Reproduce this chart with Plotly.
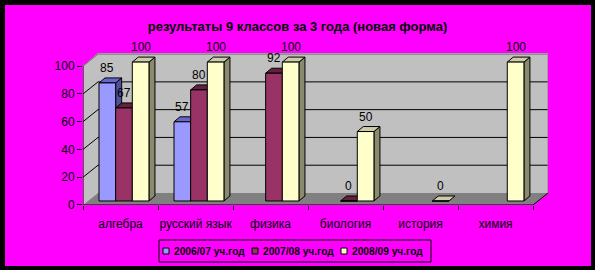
import plotly.graph_objects as go

# ---------------- data ----------------
CATEGORIES = ["алгебра", "русский язык", "физика", "биология", "история", "химия"]
SERIES = ["2006/07 уч.год", "2007/08 уч.год", "2008/09 уч.год"]
VALUES_2006_07 = [85, 57, None, None, None, None]
VALUES_2007_08 = [67, 80, 92, 0, None, None]
VALUES_2008_09 = [100, 100, 100, 50, 0, 100]
Y_TICKS = [0, 20, 40, 60, 80, 100]
TITLE = "результаты 9 классов за 3 года (новая форма)"

ALL_VALUES = [VALUES_2006_07, VALUES_2007_08, VALUES_2008_09]

# ---------------- style ----------------
FRONT = ["#9999FF", "#993366", "#FFFFCC"]
TOP = ["#6666CC", "#66203F", "#CCCCA8"]
SIDE = ["#50509C", "#4E1A34", "#8A8A6E"]
MAGENTA = "#FF00FF"
WALL = "#C0C0C0"
FLOOR = "#808080"
FONT = "Liberation Sans, Arial, sans-serif"

W, H = 595, 270
ML, MR, MT, MB = 83, 47, 53, 65
PW, PH = W - ML - MR, H - MT - MB
X0, X1 = -0.5, 5.7
Y0, Y1 = -2.88, 106.55
PXU = PH / (Y1 - Y0)           # px per y unit
WALL_OFF = 8 / PXU             # back wall zero above bar base
WALL_DX = 0.2                  # wall depth in category units
BAR_W = 0.222
OFFSETS = [-0.287, -0.065, 0.157]
DX = 6 / 75.0                  # bar depth (x)
DY = 5 / PXU                   # bar depth (y)


def px_x(px):
    return (px - ML) / PW


def px_y(py):
    return (H - MB - py) / PH


fig = go.Figure()
idx = list(range(len(CATEGORIES)))

for s, vals in enumerate(ALL_VALUES):
    fig.add_trace(go.Bar(
        x=idx, y=vals, name=SERIES[s], offset=OFFSETS[s], width=BAR_W,
        marker=dict(color=FRONT[s], line=dict(color="black", width=1)),
        showlegend=False, hoverinfo="skip",
    ))

shapes = []
# magenta corner triangles of the 3D box
shapes.append(dict(type="path", xref="x", yref="y", layer="below",
                   path=f"M{X0},{Y1} L{X0 + WALL_DX},{Y1} L{X0},{100 + Y0} Z",
                   fillcolor=MAGENTA, line=dict(width=0)))
shapes.append(dict(type="path", xref="x", yref="y", layer="below",
                   path=f"M{X1 - WALL_DX},{Y0} L{X1},{Y0} L{X1},{WALL_OFF} Z",
                   fillcolor=MAGENTA, line=dict(width=0)))
# floor
shapes.append(dict(type="path", xref="x", yref="y", layer="below",
                   path=f"M{X0},{Y0} L{X0 + WALL_DX},{WALL_OFF} L{X1},{WALL_OFF} L{X1 - WALL_DX},{Y0} Z",
                   fillcolor=FLOOR, line=dict(width=0)))
# gridlines on side wall and back wall
for t in Y_TICKS[1:]:
    col = "black" if t < 100 else "#707070"
    shapes.append(dict(type="path", xref="x", yref="y", layer="below",
                       path=f"M{X0},{t + Y0} L{X0 + WALL_DX},{t + WALL_OFF} L{X1},{t + WALL_OFF}",
                       line=dict(color=col, width=1)))
# right wall edge
shapes.append(dict(type="line", xref="x", yref="y", layer="below",
                   x0=X1, x1=X1, y0=WALL_OFF, y1=100 + WALL_OFF,
                   line=dict(color="#808080", width=1)))

# 3D faces of bars
for i in idx:
    for s, vals in enumerate(ALL_VALUES):
        v = vals[i]
        if v is None:
            continue
        xl = i + OFFSETS[s]
        xr = xl + BAR_W
        if v > 0:
            shapes.append(dict(type="path", xref="x", yref="y", layer="below",
                               path=f"M{xr},0 L{xr + DX},{DY} L{xr + DX},{v + DY} L{xr},{v} Z",
                               fillcolor=SIDE[s], line=dict(color="black", width=1)))
        shapes.append(dict(type="path", xref="x", yref="y", layer="below",
                           path=f"M{xl},{v} L{xl + DX},{v + DY} L{xr + DX},{v + DY} L{xr},{v} Z",
                           fillcolor=TOP[s], line=dict(color="black", width=1)))

# axis lines
shapes.append(dict(type="path", xref="x", yref="y", layer="above",
                   path=f"M{X0},{Y0} L{X1 - WALL_DX},{Y0} L{X1},{WALL_OFF}",
                   line=dict(color="black", width=1)))
shapes.append(dict(type="line", xref="x", yref="y", layer="above",
                   x0=X0, x1=X0, y0=Y0, y1=100 + Y0,
                   line=dict(color="black", width=1)))

# black frame
fx0, fx1 = px_x(0), px_x(W)
fy0, fy1 = px_y(H), px_y(0)
ix0, ix1 = px_x(5), px_x(591)
iy0, iy1 = px_y(266), px_y(5)
shapes.append(dict(type="path", xref="paper", yref="paper", layer="above",
                   path=(f"M{fx0},{fy0} L{fx1},{fy0} L{fx1},{fy1} L{fx0},{fy1} Z "
                         f"M{ix0},{iy0} L{ix1},{iy0} L{ix1},{iy1} L{ix0},{iy1} Z"),
                   fillcolor="black", line=dict(width=0)))

annotations = []
# value labels
for s, vals in enumerate(ALL_VALUES):
    for i, v in enumerate(vals):
        if v is None:
            continue
        annotations.append(dict(x=i + OFFSETS[s] + BAR_W / 2, y=v, xref="x", yref="y",
                                text=str(v), showarrow=False, yshift=15, yanchor="middle",
                                font=dict(family=FONT, size=12, color="black")))

# custom legend
LEG_L, LEG_R, LEG_T, LEG_B = 159, 431, 240, 262
shapes.append(dict(type="rect", xref="paper", yref="paper", layer="above",
                   x0=px_x(LEG_L), x1=px_x(LEG_R), y0=px_y(LEG_B), y1=px_y(LEG_T),
                   line=dict(color="black", width=1)))
for s, name in enumerate(SERIES):
    sx = 163 + s * 89
    shapes.append(dict(type="rect", xref="paper", yref="paper", layer="above",
                       x0=px_x(sx), x1=px_x(sx + 6), y0=px_y(254), y1=px_y(248),
                       fillcolor=FRONT[s], line=dict(color="black", width=1)))
    annotations.append(dict(x=px_x(sx + 9), y=px_y(251), xref="paper", yref="paper",
                            text=f"<b>{name}</b>", showarrow=False, xanchor="left",
                            yanchor="middle",
                            font=dict(family=FONT, size=10.2, color="black")))

fig.update_layout(
    width=W, height=H,
    margin=dict(l=ML, r=MR, t=MT, b=MB),
    paper_bgcolor=MAGENTA, plot_bgcolor=WALL,
    barmode="overlay",
    showlegend=False,
    title=dict(text=f"<b>{TITLE}</b>", x=0.5, xanchor="center", xref="container",
               y=1 - 26 / H, yanchor="middle", yref="container",
               font=dict(family=FONT, size=13, color="black")),
    xaxis=dict(range=[X0 - 0.0005, X1], tickmode="array", tickvals=idx, ticktext=CATEGORIES,
               ticks="outside", ticklen=0, showgrid=False, zeroline=False, showline=False,
               ticklabelstandoff=8,
               minor=dict(tickmode="array", tickvals=[i - 0.5 for i in idx] + [len(idx) - 0.5],
                          ticks="outside", ticklen=4, tickcolor="black", showgrid=False),
               tickfont=dict(family=FONT, size=12, color="black")),
    yaxis=dict(range=[Y0 - 0.01, Y1], tickmode="array",
               tickvals=[t + Y0 for t in Y_TICKS], ticktext=[str(t) for t in Y_TICKS],
               ticks="outside", ticklen=5, tickcolor="black", showgrid=False,
               zeroline=False, showline=False,
               tickfont=dict(family=FONT, size=12, color="black")),
    shapes=shapes, annotations=annotations,
)

fig.write_html("out.html")
